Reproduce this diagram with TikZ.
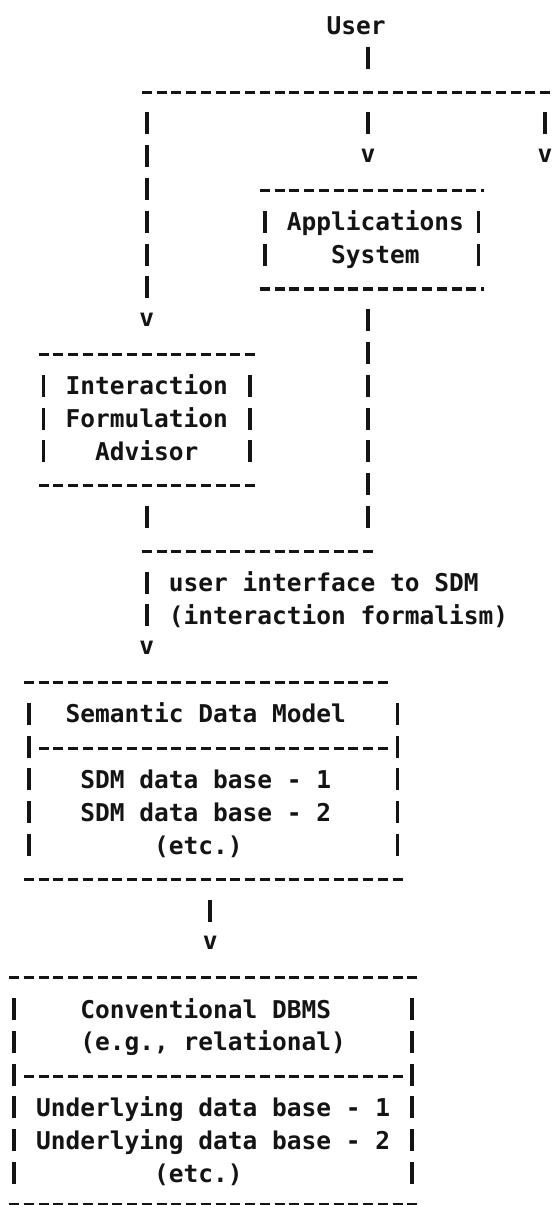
\documentclass[tikz,border=0pt]{standalone}
\usepackage{fontspec}
\newfontfamily\lpfont{DejaVu Sans Mono}
\definecolor{ink}{HTML}{141414}
\newcommand\hrun[3]{\draw[hdash] ({#1-0.339},#3) -- ({#2+0.339},#3);}
\newcommand\vrun[4]{\coordinate (#1t) at (#2,{#3-0.3354});\coordinate (#1b) at (#2,{#4+0.3354});\draw[vbar] (#1t) -- (#1b);}
\begin{document}
\begin{tikzpicture}[
  lbl/.style={font=\lpfont\bfseries\fontsize{24.5}{30}\selectfont, inner sep=0pt, outer sep=0pt, anchor=base west, text=ink, yshift=-9pt},
  ctr/.style={lbl, anchor=base},
  arrowv/.style={lbl, anchor=base, yshift=2.5pt},
  hdash/.style={draw=ink, line width=3.2pt, dash pattern=on 10pt off 4.75pt, yshift=-1.5pt},
  vbar/.style={draw=ink, line width=3.6pt, dash pattern=on 22pt off 10.8pt},
]
\useasboundingbox (0,0) rectangle (553pt,-1205pt);
\fill[white] (0,0) rectangle (553pt,-1205pt);
\clip (0,0) rectangle (553pt,-1205pt);
\begin{scope}[shift={(14pt,-25pt)}, x=14.75pt, y=-32.8pt]
% User and distribution line
\node[ctr] (user) at (23.2,0) {User};
\vrun{U}{24}{1}{1}
\hrun{9}{37}{2}
\vrun{L}{9}{3}{8}
\node[arrowv] (va) at (9,9) {v};
\vrun{M}{24}{3}{3}
\node[arrowv] (vb) at (24,4) {v};
\vrun{R}{36}{3}{3}
\node[arrowv] (vc) at (36,4) {v};
% Applications System box
\hrun{17}{31.5}{5}
\vrun{Aa}{17}{6}{7}
\vrun{Ab}{31.5}{6}{7}
\hrun{17}{31.5}{8}
\node[lbl] (apps1) at (18.5,6) {Applications};
\node[lbl] (apps2) at (21.5,7) {System};
\vrun{AS}{24}{9}{15}
% Interaction Formulation Advisor box
\hrun{2}{16}{10}
\vrun{Ia}{2}{11}{13}
\vrun{Ib}{16}{11}{13}
\hrun{2}{16}{14}
\node[lbl] (ifa1) at (3.5,11) {Interaction};
\node[lbl] (ifa2) at (3.5,12) {Formulation};
\node[lbl] (ifa3) at (5.5,13) {Advisor};
\vrun{IS}{9}{15}{15}
\hrun{9}{24}{16}
\vrun{UI}{9}{17}{18}
\node[lbl] (ui1) at (10.5,17) {user interface to SDM};
\node[lbl] (ui2) at (10.5,18) {(interaction formalism)};
\node[arrowv] (vd) at (9,19) {v};
% Semantic Data Model box
\hrun{1}{25}{20}
\vrun{Sa}{1}{21}{25}
\vrun{Sb}{26}{21}{25}
\hrun{2}{25}{22}
\hrun{1}{26}{26}
\node[lbl] (sdm) at (3.5,21) {Semantic Data Model};
\node[lbl] (sdb1) at (4.5,23) {SDM data base - 1};
\node[lbl] (sdb2) at (4.5,24) {SDM data base - 2};
\node[lbl] (setc) at (9.5,25) {(etc.)};
\vrun{SC}{13.3}{27}{27}
\node[arrowv] (ve) at (13.3,28) {v};
% Conventional DBMS box
\hrun{0}{27}{29}
\vrun{Ca}{0}{30}{35}
\vrun{Cb}{27}{30}{35}
\hrun{1}{26}{32}
\hrun{0}{27}{35.92}
\node[lbl] (db1) at (4.5,30) {Conventional DBMS};
\node[lbl] (db2) at (4.5,31) {(e.g., relational)};
\node[lbl] (udb1) at (1.5,33) {Underlying data base - 1};
\node[lbl] (udb2) at (1.5,34) {Underlying data base - 2};
\node[lbl] (uetc) at (9.5,35) {(etc.)};
\end{scope}
\end{tikzpicture}
\end{document}
